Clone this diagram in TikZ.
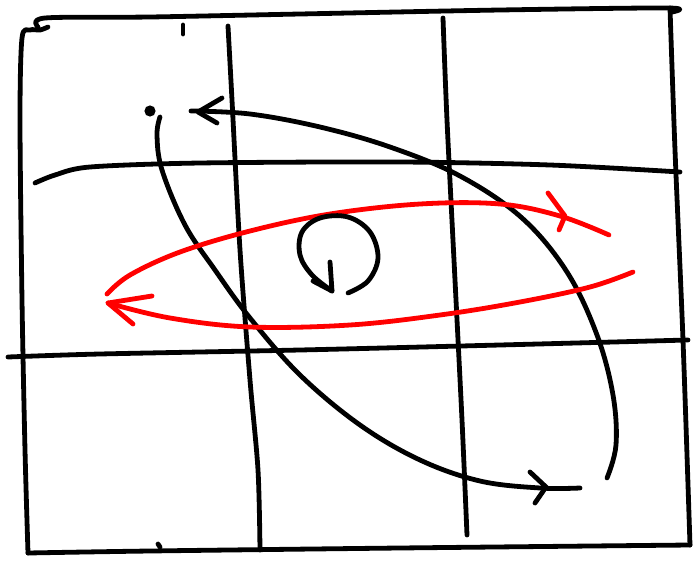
\documentclass[tikz,border=0pt]{standalone}
\begin{document}
\begin{tikzpicture}[x=0.75pt,y=-0.75pt,
  ink/.style={line width=3.6pt,line cap=round,line join=round},
  redink/.style={ink,draw={rgb,255:red,255;green,0;blue,0}}]
\useasboundingbox (0,0) rectangle (694,561);
% outer frame
\draw[ink] plot[smooth,tension=0.5] coordinates {(48,27)(40,30)(30,30)(22,38)(20,120)(22,300)(25,450)(28,553)};
\draw[ink] plot[smooth,tension=0.5] coordinates {(38,27)(45,18)(150,17)(300,14)(500,10)(668,8)(672,12)};
\draw[ink] plot[smooth,tension=0.5] coordinates {(670,8)(675,150)(683,340)(690,545)};
\draw[ink] plot[smooth,tension=0.5] coordinates {(690,545)(400,548)(150,551)(28,553)};
\draw[ink] (183,25) -- (183,34);
\draw[ink] (158,544) -- (160,547);
% grid
\draw[ink] plot[smooth,tension=0.5] coordinates {(35,183)(55,175)(90,167)(200,163)(400,162)(550,165)(680,172)};
\draw[ink] plot[smooth,tension=0.5] coordinates {(8,357)(100,354)(300,350)(500,345)(688,340)};
\draw[ink] plot[smooth,tension=0.5] coordinates {(228,26)(232,100)(240,250)(250,380)(258,470)(260,550)};
\draw[ink] plot[smooth,tension=0.5] coordinates {(443,18)(447,120)(455,280)(462,420)(467,535)};
% black big loop
\fill (150,111) circle[radius=4.2pt];
\draw[ink] plot[smooth,tension=0.6] coordinates {(160,117)(157,135)(162,170)(185,225)(215,270)(250,318)(300,375)(360,425)(420,460)(480,481)(540,488)(580,488)};
\draw[ink] (530,472) -- (546,487) -- (535,503);
\draw[ink] plot[smooth,tension=0.6] coordinates {(607,478)(616,445)(613,395)(597,335)(567,272)(522,218)(460,176)(390,147)(320,127)(250,114)(191,111)};
\draw[ink] (222,98) -- (198,112) -- (217,123);
% red loop
\draw[redink] plot[smooth,tension=0.6] coordinates {(107,294)(130,275)(180,252)(250,231)(330,214)(420,204)(500,204)(560,216)(609,235)};
\draw[redink] (548,193) -- (565,216) -- (559,230);
\draw[redink] plot[smooth,tension=0.6] coordinates {(633,272)(590,287)(520,302)(440,315)(350,325)(250,327)(170,318)(108,303)};
\draw[redink] (152,296) -- (108,303) -- (133,324);
% small circular arrow
\draw[ink] plot[smooth,tension=0.6] coordinates {(348,293)(368,281)(378,258)(370,232)(348,217)(320,218)(302,232)(300,255)(312,275)(332,291)};
\draw[ink] (330,262) -- (332,291) -- (313,281);
\end{tikzpicture}
\end{document}
